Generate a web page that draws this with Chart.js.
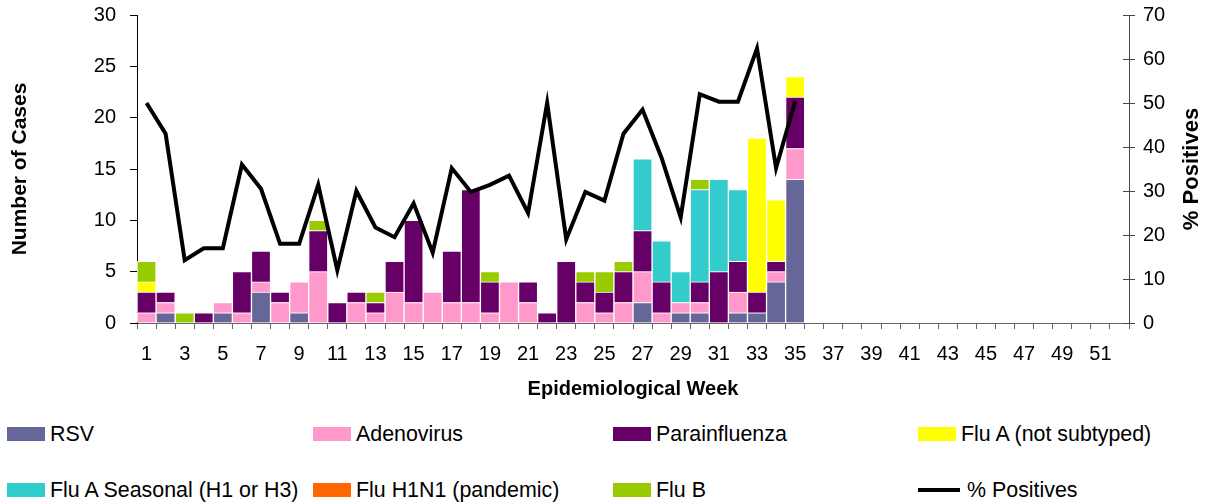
<!DOCTYPE html>
<html>
<head>
<meta charset="utf-8">
<script src="https://cdn.jsdelivr.net/npm/chart.js@4"></script>
<style>
  html, body { margin: 0; padding: 0; background: #fff; }
  body { width: 1211px; height: 504px; position: relative; overflow: hidden; font-family: 'Liberation Sans', Arial, sans-serif; }
  #wrap { position: absolute; left: 0; top: 0; width: 1211px; height: 410px; }
  .lg { position: absolute; font-size: 21.4px; color: #000; line-height: 24px; white-space: nowrap; }
  .sw { position: absolute; width: 38px; height: 14px; }
  .ln { position: absolute; width: 42px; height: 4px; background: #000; }
</style>
</head>
<body>
<div id="wrap"><canvas id="c"></canvas></div>
<div id="legend"></div>
<script>
const weeks = Array.from({length: 52}, (_, i) => String(i + 1));
const rsv        = [0,1,0,0,1,0,3,0,1,0, 0,0,0,0,0,0,0,0,0,0, 0,0,0,0,0,0,2,0,1,1, 0,1,1,4,14];
const adenovirus = [1,1,0,0,1,1,1,2,3,5, 0,2,1,3,2,3,2,2,1,4, 2,0,0,2,1,2,3,1,1,1, 0,2,0,1,3];
const parainfluenza = [2,1,0,1,0,4,3,1,0,4, 2,1,1,3,8,0,5,11,3,0, 2,1,6,2,2,3,4,3,0,2, 5,3,2,1,5];
const fluA       = [1,0,0,0,0,0,0,0,0,0, 0,0,0,0,0,0,0,0,0,0, 0,0,0,0,0,0,0,0,0,0, 0,0,15,6,2];
const fluASeasonal = [0,0,0,0,0,0,0,0,0,0, 0,0,0,0,0,0,0,0,0,0, 0,0,0,0,0,0,7,4,3,9, 9,7,0,0,0];
const fluH1N1    = [0,0,0,0,0,0,0,0,0,0, 0,0,0,0,0,0,0,0,0,0, 0,0,0,0,0,0,0,0,0,0, 0,0,0,0,0];
const fluB       = [2,0,1,0,0,0,0,0,0,1, 0,0,1,0,0,0,0,0,1,0, 0,0,0,1,2,1,0,0,0,1, 0,0,0,0,0];
const pctPositives = [50,43,14.3,17,17,36,30.5,18,18,31.4, 12,30,21.7,19.5,27.2,16,35.2,29.8,31.4,33.5, 25,50,19,29.8,27.8,43,48.5,37.5,24,52, 50.3,50.3,62.4,35.2,50.4];
const leftTicks = [0,5,10,15,20,25,30];
const rightTicks = [0,10,20,30,40,50,60,70];
const rightTitle = '% Positives';

const FONT = "'Liberation Sans', Arial, sans-serif";
const nz = a => a.map(v => v === 0 ? null : v);

const barSeries = [
  {label: 'RSV', data: rsv, color: '#666699'},
  {label: 'Adenovirus', data: adenovirus, color: '#FF99CC'},
  {label: 'Parainfluenza', data: parainfluenza, color: '#660066'},
  {label: 'Flu A (not subtyped)', data: fluA, color: '#FFFF00'},
  {label: 'Flu A Seasonal (H1 or H3)', data: fluASeasonal, color: '#33CCCC'},
  {label: 'Flu H1N1 (pandemic)', data: fluH1N1, color: '#FF6600'},
  {label: 'Flu B', data: fluB, color: '#99CC00'}
];

const datasets = barSeries.map(s => ({
  type: 'bar', label: s.label, data: nz(s.data), backgroundColor: s.color,
  borderColor: '#ffffff', borderWidth: 1, borderSkipped: 'start',
  categoryPercentage: 1.0, barPercentage: 1.0, yAxisID: 'y', stack: 's', order: 2
}));
datasets.push({
  type: 'line', label: '% Positives', data: pctPositives, yAxisID: 'y1',
  borderColor: '#000000', borderWidth: 4, pointRadius: 0, tension: 0, fill: false, order: 0,
  borderJoinStyle: 'miter', clip: false
});

const extras = {
  id: 'extras',
  afterDatasetsDraw(chart) {
    const s = chart.scales.y1;
    const ctx = chart.ctx;
    ctx.save();
    ctx.strokeStyle = '#444';
    ctx.lineWidth = 1;
    rightTicks.forEach(v => {
      const y = Math.round(s.getPixelForValue(v)) + 0.5;
      ctx.beginPath();
      ctx.moveTo(s.left - 6, y);
      ctx.lineTo(s.left, y);
      ctx.stroke();
    });
    // right axis title, reading bottom-to-top
    const ca = chart.chartArea;
    ctx.translate(1192, (ca.top + ca.bottom) / 2);
    ctx.rotate(-Math.PI / 2);
    ctx.fillStyle = '#000';
    ctx.font = 'bold 22px ' + FONT;
    ctx.textAlign = 'center';
    ctx.textBaseline = 'middle';
    ctx.fillText(rightTitle, 0, 0);
    ctx.restore();
  }
};

function fixV(width) {
  return function (s) { s.width = width; s.paddingTop = 0; s.paddingBottom = 0; };
}

new Chart(document.getElementById('c'), {
  data: {labels: weeks, datasets},
  plugins: [extras],
  options: {
    responsive: true, maintainAspectRatio: false, animation: false,
    layout: {autoPadding: false, padding: {top: 15, left: 0, right: 0, bottom: 0}},
    plugins: {legend: {display: false}, tooltip: {enabled: false}},
    scales: {
      x: {
        stacked: true,
        afterFit(s) { s.height = 87; s.paddingLeft = 0; s.paddingRight = 0; },
        grid: {display: true, drawOnChartArea: false, offset: true, tickLength: 6, color: '#666', tickColor: '#666'},
        border: {display: true, color: '#666', width: 1},
        ticks: {
          autoSkip: false, maxRotation: 0, minRotation: 0, padding: 13, color: '#000',
          font: {family: FONT, size: 20},
          callback(v, i) { return i % 2 === 0 ? weeks[i] : ''; }
        },
        title: {display: true, text: 'Epidemiological Week', color: '#000',
          font: {family: FONT, size: 20, weight: 'bold'}, padding: {top: 0, bottom: 9}}
      },
      y: {
        position: 'left', stacked: true, min: 0, max: 30,
        afterFit: fixV(137),
        afterBuildTicks(s) { s.ticks = leftTicks.map(v => ({value: v})); },
        grid: {display: true, drawOnChartArea: false, tickLength: 7, color: '#000', tickColor: '#000'},
        border: {display: true, color: '#000', width: 1},
        ticks: {padding: 14, color: '#000', font: {family: FONT, size: 20}},
        title: {display: true, text: 'Number of Cases', color: '#000',
          font: {family: FONT, size: 21, weight: 'bold'}, padding: {top: 8, bottom: 0}}
      },
      y1: {
        position: 'right', min: 0, max: 70,
        afterFit: fixV(82),
        afterBuildTicks(s) { s.ticks = rightTicks.map(v => ({value: v})); },
        grid: {display: true, drawOnChartArea: false, tickLength: 6, color: '#444', tickColor: '#444'},
        border: {display: true, color: '#444', width: 1},
        ticks: {padding: 8, crossAlign: 'near', color: '#000', font: {family: FONT, size: 20}},
        title: {display: false}
      }
    }
  }
});

// HTML legend in 4 columns x 2 rows
const legendItems = barSeries.map(s => ({label: s.label, color: s.color}));
legendItems.push({label: '% Positives', line: true});
const colX = [7, 313, 613, 918];
const rowY = [434, 490];
const lg = document.getElementById('legend');
legendItems.forEach((it, i) => {
  const col = i % 4, row = Math.floor(i / 4);
  const x = colX[col], cy = rowY[row];
  const mark = document.createElement('div');
  if (it.line) {
    mark.className = 'ln';
    mark.style.left = x + 'px';
    mark.style.top = (cy - 2) + 'px';
  } else {
    mark.className = 'sw';
    mark.style.left = x + 'px';
    mark.style.top = (cy - 7) + 'px';
    mark.style.background = it.color;
  }
  lg.appendChild(mark);
  const t = document.createElement('div');
  t.className = 'lg';
  t.textContent = it.label;
  t.style.left = (x + (it.line ? 49 : 43)) + 'px';
  t.style.top = (cy - 12) + 'px';
  lg.appendChild(t);
});
</script>
</body>
</html>
